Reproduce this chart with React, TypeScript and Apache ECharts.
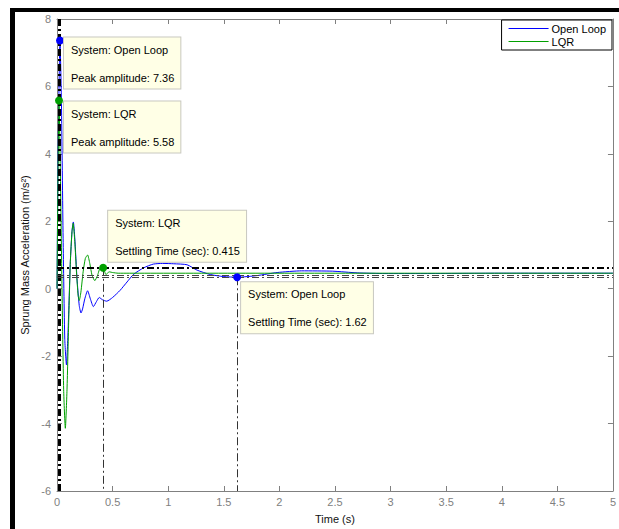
import React, { useEffect, useRef } from "react";
import * as echarts from "echarts";

// Time axis samples and responses
const tOpen = [0, 0.01, 0.027, 0.04, 0.055, 0.07, 0.085, 0.1, 0.12, 0.135, 0.147, 0.16, 0.18, 0.2, 0.216, 0.23, 0.25, 0.275, 0.3, 0.327, 0.355, 0.38, 0.41, 0.447, 0.5, 0.567, 0.63, 0.69, 0.78, 0.866, 0.95, 1.05, 1.17, 1.26, 1.38, 1.5, 1.62, 1.8, 1.98, 2.2, 2.48, 2.7, 2.95, 3.3, 4, 5];
const yOpen = [0, 4.0, 7.36, 5.5, 1.5, -1.5, -2.26, -1.2, 0.8, 1.7, 1.98, 1.5, 0.3, -0.5, -0.72, -0.6, -0.3, -0.06, -0.3, -0.53, -0.38, -0.26, -0.33, -0.37, -0.26, -0.05, 0.2, 0.43, 0.62, 0.73, 0.75, 0.74, 0.71, 0.55, 0.42, 0.36, 0.34, 0.39, 0.48, 0.53, 0.52, 0.47, 0.45, 0.45, 0.46, 0.46];

const tLqr = [0, 0.008, 0.018, 0.03, 0.045, 0.06, 0.075, 0.09, 0.105, 0.12, 0.135, 0.145, 0.16, 0.175, 0.19, 0.2, 0.215, 0.235, 0.255, 0.275, 0.295, 0.315, 0.34, 0.365, 0.39, 0.415, 0.44, 0.47, 0.5, 0.55, 0.65, 5];
const yLqr = [0, 3.0, 5.58, 3.5, 0.0, -3.0, -4.14, -3.0, -1.0, 0.8, 1.7, 1.94, 1.4, 0.5, -0.2, -0.35, -0.1, 0.5, 0.9, 1.0, 0.75, 0.4, 0.24, 0.4, 0.62, 0.62, 0.42, 0.5, 0.48, 0.46, 0.46, 0.46];

const seriesNames = ["Open Loop", "LQR"];
const xTicks = { min: 0, max: 5, interval: 0.5 };
const yTicks = { min: -6, max: 8, interval: 2 };

// Characteristic points [time, value]
const peakOpen = [0.027, 7.36];
const peakLqr = [0.018, 5.58];
const settleLqr = [0.415, 0.62];
const settleOpen = [1.62, 0.34];
// settling bound levels
const boundUpper = 0.63;
const boundLower1 = 0.4;
const boundLower2 = 0.33;

const BLUE = "#0000ff";
const GREEN = "#00a000";
const FONT = "Liberation Sans, Arial, sans-serif";

const tipStyle = {
  show: true,
  color: "#000",
  fontFamily: FONT,
  fontSize: 11,
  lineHeight: 14,
  backgroundColor: "#ffffe6",
  borderColor: "#c8c8c0",
  borderWidth: 1,
  padding: [5, 6, 4, 7],
  align: "left",
  verticalAlign: "top",
};

export default function App() {
  const ref = useRef<HTMLDivElement>(null);
  useEffect(() => {
    const chart = echarts.init(ref.current!, null, { renderer: "svg" });
    const openData = tOpen.map((t, i) => [t, yOpen[i]]);
    const lqrData = tLqr.map((t, i) => [t, yLqr[i]]);
    const axisLineColor = "#808080";
    const colors = [BLUE, GREEN];
    const option: any = {
      animation: false,
      backgroundColor: "#fff",
      graphic: [
        { type: "rect", shape: { x: 10, y: 8, width: 5, height: 521 }, style: { fill: "#000" }, silent: true },
        { type: "rect", shape: { x: 10, y: 8, width: 609, height: 4 }, style: { fill: "#000" }, silent: true },
      ],
      grid: { left: 57, top: 19, right: 6, bottom: 27, show: false },
      legend: {
        right: 7,
        top: 20,
        orient: "vertical",
        data: seriesNames.map((n, i) => ({
          name: n,
          icon: "rect",
          itemStyle: { color: colors[i], borderWidth: 0 },
        })),
        backgroundColor: "#fff",
        borderColor: "#000",
        borderWidth: 1,
        padding: [3, 6, 3, 7],
        itemGap: 2,
        itemWidth: 40,
        itemHeight: 1,
        textStyle: { fontFamily: FONT, fontSize: 11, color: "#000", padding: [0, 0, 0, -2] },
      },
      xAxis: [
        {
          type: "value",
          ...xTicks,
          name: "Time (s)",
          nameLocation: "middle",
          nameGap: 22,
          nameTextStyle: { fontFamily: FONT, fontSize: 11, color: "#111" },
          axisLine: { onZero: false, lineStyle: { color: axisLineColor } },
          axisTick: { inside: true, length: 5, lineStyle: { color: axisLineColor } },
          axisLabel: { fontFamily: FONT, fontSize: 11, color: "#808080", margin: 5 },
          splitLine: { show: false },
        },
        {
          type: "value",
          position: "top",
          ...xTicks,
          axisLine: { onZero: false, lineStyle: { color: axisLineColor } },
          axisTick: { inside: true, length: 5, lineStyle: { color: axisLineColor } },
          axisLabel: { show: false },
          splitLine: { show: false },
        },
      ],
      yAxis: [
        {
          type: "value",
          ...yTicks,
          name: "Sprung Mass Acceleration (m/s²)",
          nameLocation: "middle",
          nameGap: 17,
          nameTextStyle: { fontFamily: FONT, fontSize: 11, color: "#111" },
          axisLine: { onZero: false, lineStyle: { color: axisLineColor } },
          axisTick: { inside: true, length: 5, lineStyle: { color: axisLineColor } },
          axisLabel: { fontFamily: FONT, fontSize: 11, color: "#808080", margin: 6 },
          splitLine: { show: false },
        },
        {
          type: "value",
          position: "right",
          ...yTicks,
          axisLine: { onZero: false, lineStyle: { color: axisLineColor } },
          axisTick: { inside: true, length: 5, lineStyle: { color: axisLineColor } },
          axisLabel: { show: false },
          splitLine: { show: false },
        },
      ],
      series: [
        {
          name: seriesNames[0],
          type: "line",
          data: openData,
          symbol: "none",
          smooth: 0.2,
          color: BLUE,
          lineStyle: { color: BLUE, width: 1 },
          itemStyle: { color: BLUE },
          z: 3,
          markLine: {
            silent: true,
            symbol: "none",
            label: { show: false },
            data: [
              [{ coord: [peakOpen[0], yTicks.max] }, { coord: [peakOpen[0], yTicks.min] }],
              [{ coord: [peakLqr[0], yTicks.max] }, { coord: [peakLqr[0], yTicks.min] }],
              { yAxis: boundUpper },
            ].map((d: any) => {
              const style = { lineStyle: { color: "#000", width: 2, type: [7, 3, 2, 3], opacity: 1 } };
              return Array.isArray(d) ? [{ ...d[0], ...style }, d[1]] : { ...d, ...style };
            }),
          },
          markPoint: {
            symbol: "circle",
            symbolSize: 8,
            itemStyle: { color: BLUE },
            data: [
              {
                coord: peakOpen,
                label: { ...tipStyle, position: [8, 1], formatter: "System: Open Loop\n\nPeak amplitude: " + peakOpen[1].toFixed(2) },
              },
              {
                coord: settleOpen,
                label: { ...tipStyle, position: [8, 9], formatter: "System: Open Loop\n\nSettling Time (sec): " + settleOpen[0].toFixed(2) },
              },
            ],
          },
        },
        {
          name: seriesNames[1],
          type: "line",
          data: lqrData,
          symbol: "none",
          smooth: 0.2,
          color: GREEN,
          lineStyle: { color: GREEN, width: 1 },
          itemStyle: { color: GREEN },
          z: 3,
          markLine: {
            silent: true,
            symbol: "none",
            label: { show: false },
            data: [
              [{ coord: [settleLqr[0], settleLqr[1]], lineStyle: { color: "#333", width: 1, type: [8, 3, 2, 3] } }, { coord: [settleLqr[0], yTicks.min] }],
              [{ coord: [settleOpen[0], settleOpen[1]], lineStyle: { color: "#333", width: 1, type: [8, 3, 2, 3] } }, { coord: [settleOpen[0], yTicks.min] }],
              { yAxis: boundLower1, lineStyle: { color: "#444", width: 1, type: [7, 3, 2, 3] } },
              { yAxis: boundLower2, lineStyle: { color: "#444", width: 1, type: [7, 3, 2, 3] } },
            ],
          },
          markPoint: {
            symbol: "circle",
            symbolSize: 8,
            itemStyle: { color: GREEN },
            data: [
              {
                coord: peakLqr,
                label: { ...tipStyle, position: [9, 5], formatter: "System: LQR\n\nPeak amplitude: " + peakLqr[1].toFixed(2) },
              },
              {
                coord: settleLqr,
                label: { ...tipStyle, position: [9, -53], formatter: "System: LQR\n\nSettling Time (sec): " + settleLqr[0].toFixed(3) },
              },
            ],
          },
        },
      ],
    };
    chart.setOption(option);
    return () => chart.dispose();
  }, []);
  return <div ref={ref} style={{ position: "fixed", left: 0, top: 0, width: 619, height: 529 }} />;
}
